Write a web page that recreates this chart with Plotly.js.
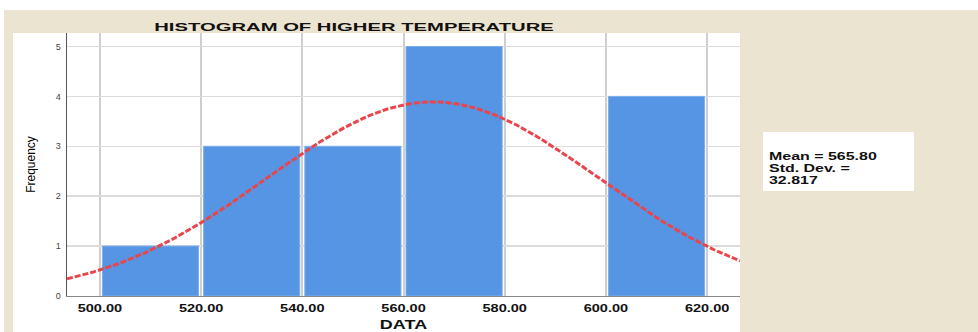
<!DOCTYPE html>
<html><head><meta charset="utf-8">
<script src="https://cdn.plot.ly/plotly-3.0.1.min.js"></script>
<style>html,body{margin:0;padding:0;background:#fff}#chart{width:978px;height:332px}</style>
</head><body><div id="chart"></div>
<script>
// ---- data ----
const binStarts = [500, 520, 540, 560, 580, 600];
const binWidth = 20;
const frequencies = [1, 3, 3, 5, 0, 4];
const xTickValues = [500, 520, 540, 560, 580, 600, 620];
const xTickLabels = ["500.00", "520.00", "540.00", "560.00", "580.00", "600.00", "620.00"];
const yTickValues = [0, 1, 2, 3, 4, 5];
const meanValue = 565.80;
const stdDev = 32.817;
const statLines = ["Mean = 565.80", "Std. Dev. =", "32.817"];
const chartTitle = "HISTOGRAM OF HIGHER TEMPERATURE";

// ---- derived ----
const nTotal = frequencies.reduce((a, b) => a + b, 0);
const binCenters = binStarts.map(s => s + binWidth / 2);
const xMin = 493.5, xMax = 626.5;
const curveX = [], curveY = [];
for (let i = 0; i <= 200; i++) {
  const x = xMin + (xMax - xMin) * i / 200;
  const z = (x - meanValue) / stdDev;
  curveX.push(x);
  curveY.push(nTotal * binWidth * Math.exp(-0.5 * z * z) / (stdDev * Math.sqrt(2 * Math.PI)));
}

// pixel -> paper helpers (plot area 67..740 x, 33..296 y)
const L = 67, R = 740, T = 33, B = 296;
const px = v => (v - L) / (R - L);
const py = v => (B - v) / (B - T);

const traces = [
  {type: 'bar', x: binCenters, y: frequencies, width: 19,
   marker: {color: '#5695E4', line: {color: '#7DAEEC', width: frequencies.map(f => f > 0 ? 1 : 0)}}, hoverinfo: 'x+y'},
  {type: 'scatter', mode: 'lines', x: curveX, y: curveY,
   line: {color: '#E8454D', width: 3, dash: '6px,2px'}, hoverinfo: 'skip'}
];

const layout = {
  width: 978, height: 332,
  paper_bgcolor: '#EBE4D0', plot_bgcolor: '#FFFFFF',
  margin: {l: L, r: 978 - R, t: T, b: 332 - B},
  showlegend: false,
  title: {text: '<b>' + chartTitle + '</b>', x: 354 / 978, xanchor: 'center', y: 1 - 27 / 332, yanchor: 'middle',
          font: {family: 'Liberation Sans, Arial, sans-serif', size: 11.5, color: '#111'}},
  xaxis: {range: [xMin, xMax], tickvals: xTickValues, ticktext: xTickLabels, ticks: '',
          showgrid: true, gridcolor: '#CFCFCF', gridwidth: 2, zeroline: false,
          showline: true, linecolor: '#888', linewidth: 1, ticklabelstandoff: 3,
          tickfont: {family: 'Liberation Sans, Arial, sans-serif', size: 10, color: '#111', weight: 'bold'},
          title: {text: '<b>DATA</b>', standoff: 8, font: {family: 'Liberation Sans, Arial, sans-serif', size: 12, color: '#111'}}},
  yaxis: {range: [0, (B - T) / 49.9], tickvals: yTickValues, ticks: '',
          showgrid: true, gridcolor: '#DCDCDC', gridwidth: 1.5, zeroline: false,
          showline: true, linecolor: '#555', linewidth: 1.5, ticklabelstandoff: 3,
          tickfont: {family: 'Liberation Sans, Arial, sans-serif', size: 9, color: '#444'},
          title: {text: 'Frequency', standoff: 17, font: {family: 'Liberation Sans, Arial, sans-serif', size: 12, color: '#000'}}},
  shapes: [
    {type: 'rect', xref: 'paper', yref: 'paper', x0: px(0), x1: px(978), y0: py(0), y1: py(10), fillcolor: '#FFFFFF', line: {width: 0}, layer: 'below'},
    {type: 'rect', xref: 'paper', yref: 'paper', x0: px(0), x1: px(4), y0: py(0), y1: py(332), fillcolor: '#FFFFFF', line: {width: 0}, layer: 'below'},
    {type: 'rect', xref: 'paper', yref: 'paper', x0: px(13), x1: px(740), y0: py(33), y1: py(332), fillcolor: '#FFFFFF', line: {width: 0}, layer: 'below'},
    {type: 'rect', xref: 'paper', yref: 'paper', x0: px(763), x1: px(914), y0: py(132), y1: py(191), fillcolor: '#FFFFFF', line: {width: 0}, layer: 'below'}
  ],
  annotations: statLines.map((t, i) => ({
    text: '<b>' + t + '</b>', xref: 'paper', yref: 'paper', x: px(767), y: py(156 + 12 * i),
    xanchor: 'left', yanchor: 'middle', align: 'left', showarrow: false,
    font: {family: 'Liberation Sans, Arial, sans-serif', size: 11, color: '#111'}
  }))
};

Plotly.newPlot('chart', traces, layout, {displayModeBar: false, staticPlot: true}).then(() => {
  const stretch = (el, k) => {
    const len = el.getComputedTextLength();
    el.setAttribute('textLength', (len * k).toFixed(1));
    el.setAttribute('lengthAdjust', 'spacingAndGlyphs');
  };
  document.querySelectorAll('.gtitle').forEach(e => stretch(e, 1.76));
  document.querySelectorAll('.xtick text').forEach(e => stretch(e, 1.45));
  document.querySelectorAll('.g-xtitle text').forEach(e => stretch(e, 1.5));
  document.querySelectorAll('.annotation-text').forEach(e => stretch(e, 1.45));
});
</script></body></html>
